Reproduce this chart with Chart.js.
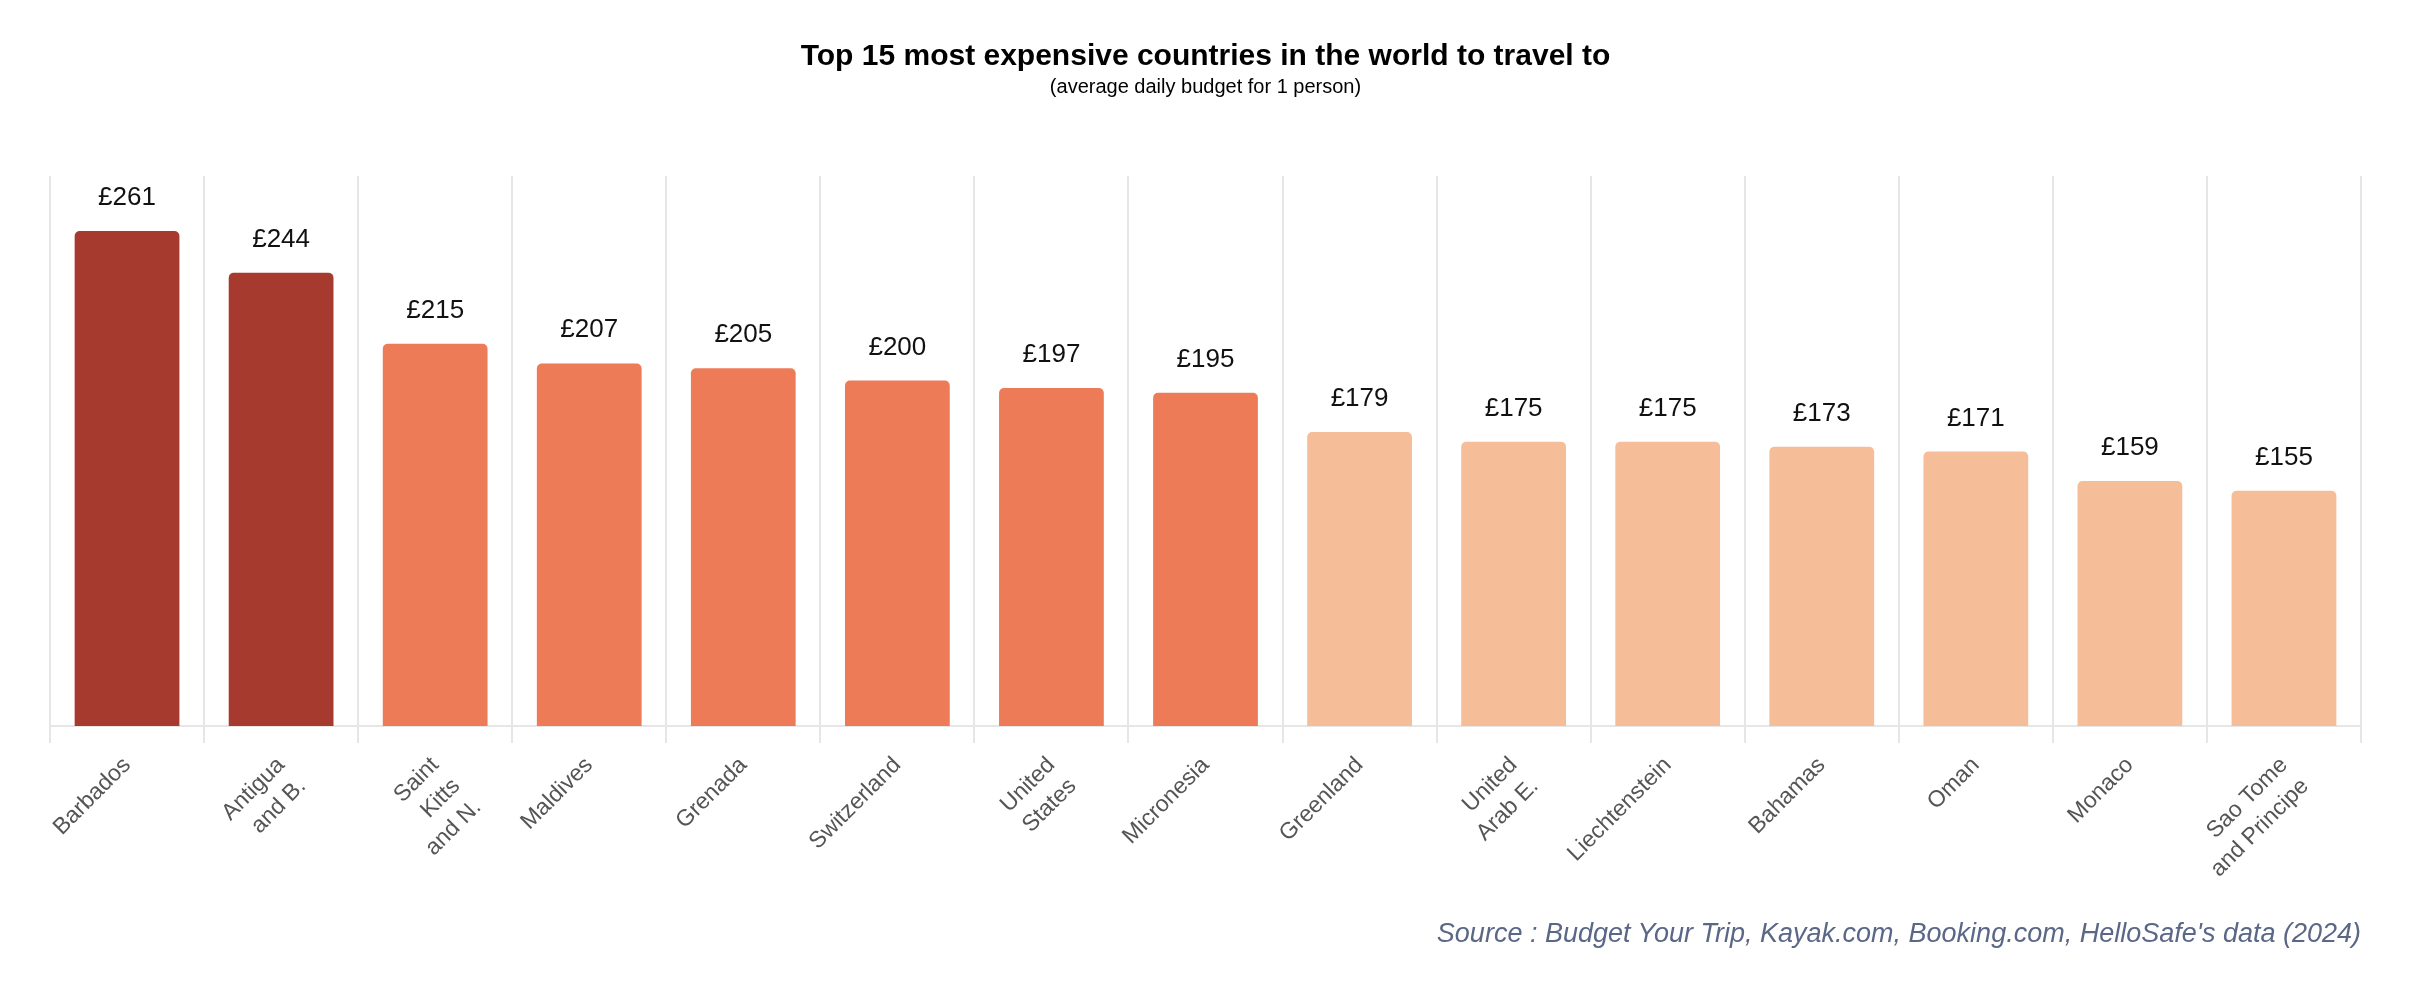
<!DOCTYPE html>
<html>
<head>
<meta charset="utf-8">
<script src="https://cdn.jsdelivr.net/npm/chart.js@4.4.1/dist/chart.umd.min.js"></script>
<style>
  html, body { margin: 0; padding: 0; background: #fff; }
  #wrap { position: relative; width: 2422px; height: 996px; }
  #source {
    position: absolute;
    right: 61px;
    top: 920px;
    font: italic 27px "Liberation Sans", Arial, sans-serif;
    line-height: 1;
    color: #5b6787;
    white-space: nowrap;
  }
</style>
</head>
<body>
<div id="wrap">
  <canvas id="chart" width="2422" height="996"></canvas>
  <div id="source">Source : Budget Your Trip, Kayak.com, Booking.com, HelloSafe's data (2024)</div>
</div>
<script>
// Data
const countries = [
  'Barbados', ['Antigua', 'and B.'], ['Saint', 'Kitts', 'and N.'], 'Maldives', 'Grenada',
  'Switzerland', ['United', 'States'], 'Micronesia', 'Greenland', ['United', 'Arab E.'],
  'Liechtenstein', 'Bahamas', 'Oman', 'Monaco', ['Sao Tome', 'and Principe']
];
const budgets = [261, 244, 215, 207, 205, 200, 197, 195, 179, 175, 175, 173, 171, 159, 155];
// colour tier per country: 0 = top, 1 = high, 2 = rest
const tiers = [0, 0, 1, 1, 1, 1, 1, 1, 2, 2, 2, 2, 2, 2, 2];
const tierColors = ['#a63a2e', '#ed7b58', '#f5bd98'];

const FONT = '"Liberation Sans", Arial, sans-serif';

// Value labels above the bars
const valueLabels = {
  id: 'valueLabels',
  afterDatasetsDraw(chart) {
    const ctx = chart.ctx;
    const meta = chart.getDatasetMeta(0);
    ctx.save();
    ctx.font = '26px ' + FONT;
    ctx.fillStyle = '#111';
    ctx.textAlign = 'center';
    ctx.textBaseline = 'alphabetic';
    meta.data.forEach((bar, i) => {
      ctx.fillText('£' + budgets[i], bar.x, bar.y - 26);
    });
    ctx.restore();
  }
};

const ctx = document.getElementById('chart').getContext('2d');
new Chart(ctx, {
  type: 'bar',
  data: {
    labels: countries,
    datasets: [{
      data: budgets,
      backgroundColor: tiers.map(t => tierColors[t]),
      borderRadius: 5,
      borderSkipped: 'start',
      categoryPercentage: 0.68,
      barPercentage: 1
    }]
  },
  options: {
    responsive: false,
    animation: false,
    layout: { padding: { left: 50, right: 61, top: 0, bottom: 100 } },
    plugins: {
      legend: { display: false },
      tooltip: { enabled: false },
      title: {
        display: true,
        text: 'Top 15 most expensive countries in the world to travel to',
        color: '#000',
        font: { family: FONT, size: 30, weight: 'bold', lineHeight: 1 },
        padding: { top: 42, bottom: 0 }
      },
      subtitle: {
        display: true,
        text: '(average daily budget for 1 person)',
        color: '#000',
        font: { family: FONT, size: 20, lineHeight: 1 },
        padding: { top: 5, bottom: 79 }
      }
    },
    scales: {
      x: {
        grid: { display: true, color: '#e6e6e6', lineWidth: 2, tickLength: 17, offset: true },
        border: { display: true, color: '#e6e6e6', width: 2 },
        ticks: {
          color: '#555',
          font: { family: FONT, size: 23, lineHeight: 1.3 },
          minRotation: 45,
          maxRotation: 45,
          padding: 8,
          autoSkip: false
        },
        afterFit(scale) { scale.height = 170; }
      },
      y: {
        display: false,
        min: 59,
        max: 283.5
      }
    }
  },
  plugins: [valueLabels]
});
</script>
</body>
</html>
